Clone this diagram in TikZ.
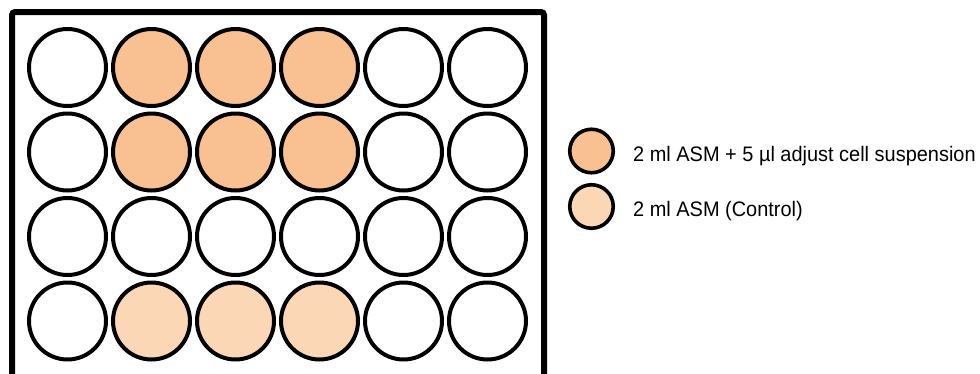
\documentclass[tikz,border=0pt]{standalone}
\usepackage{fontspec}
\setmainfont{Liberation Sans}[FakeStretch=0.95]
\definecolor{cellfill}{RGB}{249,193,145}
\definecolor{ctrlfill}{RGB}{252,215,182}
\begin{document}
\begin{tikzpicture}[x=1pt,y=-1pt,
  well/.style={circle,draw=black,line width=4pt,inner sep=0pt,minimum size=77pt,fill=white},
  cellwell/.style={well,fill=cellfill},
  ctrlwell/.style={well,fill=ctrlfill},
  legwell/.style={circle,draw=black,line width=3.6pt,inner sep=0pt,minimum size=43.5pt},
  legtext/.style={anchor=base west,inner sep=0pt,font=\fontsize{21}{25}\selectfont}]
\useasboundingbox (0,0) rectangle (980,373);
\draw[line width=6pt,rounded corners=3pt] (12,390) -- (12,12) -- (544,12) -- (544,390);
\foreach \r/\y in {1/67.5,2/152,3/236.5,4/321}{
  \foreach \c in {1,...,6}{
    \pgfmathsetmacro{\xx}{67.5+84*(\c-1)}
    \def\sty{well}
    \ifnum\r=1 \ifnum\c>1 \ifnum\c<5 \def\sty{cellwell}\fi\fi\fi
    \ifnum\r=2 \ifnum\c>1 \ifnum\c<5 \def\sty{cellwell}\fi\fi\fi
    \ifnum\r=4 \ifnum\c>1 \ifnum\c<5 \def\sty{ctrlwell}\fi\fi\fi
    \node[\sty] (w\r\c) at (\xx,\y) {};
  }
}
\node[legwell,fill=cellfill] (l1) at (591.5,151) {};
\node[legwell,fill=ctrlfill] (l2) at (591.5,206.5) {};
\node[legtext] (t1) at (633,161) {2 ml ASM + 5 µl adjust cell suspension};
\node[legtext] (t2) at (633,216) {2 ml ASM (Control)};
\end{tikzpicture}
\end{document}
